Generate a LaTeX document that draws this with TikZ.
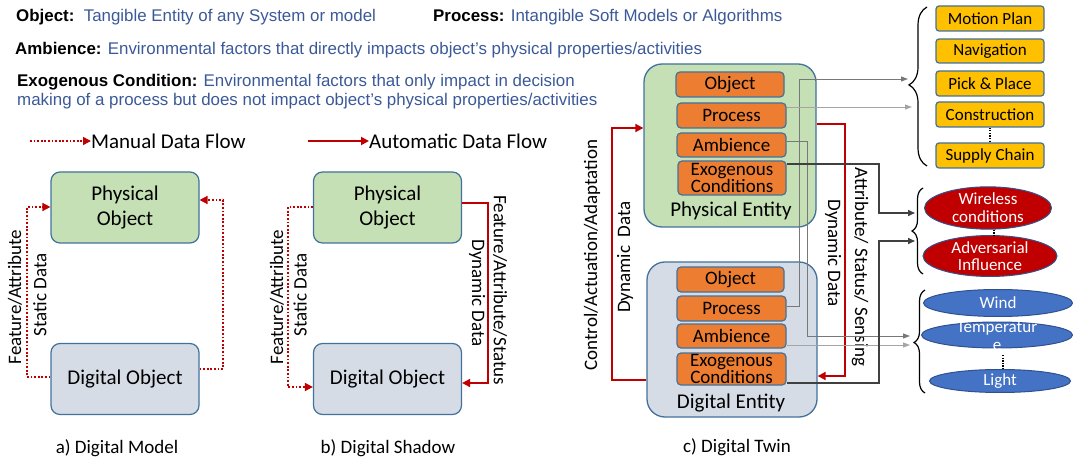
\documentclass[tikz,border=0pt]{standalone}
\usepackage{fontspec}
\setmainfont{Carlito}
\newfontfamily\arialf{Liberation Sans}
\usetikzlibrary{arrows.meta,decorations.pathreplacing,shapes.geometric,calc}
\definecolor{txtblue}{RGB}{59,89,152}
\definecolor{bordblue}{RGB}{65,113,156}
\definecolor{physgreen}{RGB}{197,224,180}
\definecolor{diggray}{RGB}{214,220,229}
\definecolor{orng}{RGB}{237,125,49}
\definecolor{yel}{RGB}{255,192,0}
\definecolor{darkred}{RGB}{192,0,0}
\definecolor{elblue}{RGB}{68,114,196}
\definecolor{elbord}{RGB}{47,82,143}
\definecolor{dgray}{RGB}{64,64,64}
\definecolor{mgray}{RGB}{120,120,120}
\definecolor{lgray}{RGB}{165,165,165}
\newcommand\fszA{\fontsize{21}{25}\selectfont}
\newcommand\fszB{\fontsize{19}{22}\selectfont}
\newcommand\fszC{\fontsize{17}{18}\selectfont}
\newcommand\fszT{\arialf\fontsize{16.9}{19}\selectfont}
\begin{document}
\begin{tikzpicture}[x=1pt,y=-1pt,
  objbox/.style={draw=bordblue, line width=1.2pt, rounded corners=9pt, minimum width=148pt, minimum height=71pt, align=center, inner sep=0pt, font=\fszA},
  entbox/.style={draw=bordblue, line width=1.3pt, rounded corners=18pt, inner sep=0pt},
  obox/.style={draw=bordblue, line width=1.2pt, fill=orng, rounded corners=4pt, inner sep=0pt, minimum width=108pt, minimum height=25pt, align=center, font=\fszB},
  ybox/.style={draw=bordblue, line width=1.2pt, fill=yel, rounded corners=3pt, inner sep=0pt, minimum width=108pt, minimum height=25pt, font=\fszC},
  rell/.style={ellipse, draw=elbord, line width=1pt, fill=darkred, text=white, inner sep=0pt, align=center, font=\fszC},
  bell/.style={ellipse, draw=elbord, line width=1pt, fill=elblue, text=white, inner sep=0pt, align=center, font=\fszC},
  lbl/.style={inner sep=0pt, font=\fszB},
  manual/.style={draw=darkred, line width=1.6pt, dash pattern=on 1.8pt off 1.8pt, -{Triangle[length=8pt,width=8pt]}},
  auto/.style={draw=darkred, line width=1.8pt, -{Triangle[length=8pt,width=8pt]}},
  dline/.style={draw=dgray, line width=1.5pt, -{Triangle[length=7pt,width=6pt]}},
  mline/.style={draw=mgray, line width=0.9pt, -{Triangle[length=7pt,width=5pt]}},
  lline/.style={draw=lgray, line width=0.9pt, -{Triangle[length=7pt,width=5pt]}},
  brc/.style={draw=black, line width=1.2pt, decorate},
  vdots/.style={draw=black, line width=1.3pt, dash pattern=on 1.3pt off 1.3pt}
]
\useasboundingbox (0,0) rectangle (1073,462);

% ---------- definitions text ----------
\node[anchor=west, inner sep=0pt, font=\fszT] (defobj) at (16,17) {\textbf{Object:}\ \ \textcolor{txtblue}{Tangible Entity of any System or model}};
\node[anchor=west, inner sep=0pt, font=\fszT] (defproc) at (433,17) {\textbf{Process:} \textcolor{txtblue}{Intangible Soft Models or Algorithms}};
\node[anchor=west, inner sep=0pt, font=\fszT] (defamb) at (15,50) {\textbf{Ambience:} \textcolor{txtblue}{Environmental factors that directly impacts object’s physical properties/activities}};
\node[anchor=west, inner sep=0pt, font=\fszT, align=left] (defexo) at (17,91.5) {\textbf{Exogenous Condition:} \textcolor{txtblue}{Environmental factors that only impact in decision}\\\textcolor{txtblue}{making of a process but does not impact object’s physical properties/activities}};

% ---------- legends ----------
\coordinate (ml1) at (30,141);
\node[anchor=west, inner sep=0pt, font=\fszA] (mltext) at (91,141) {Manual Data Flow};
\draw[manual] (ml1) -- (mltext.west);
\coordinate (al1) at (308,141);
\node[anchor=west, inner sep=0pt, font=\fszA] (altext) at (369,141) {Automatic Data Flow};
\draw[auto] (al1) -- (altext.west);

% ---------- panel a ----------
\node[objbox, fill=physgreen] (apo) at (125,207.5) {Physical\\Object};
\node[objbox, fill=diggray] (ado) at (125,379) {Digital Object};
\draw[manual] (ado.west |- 0,377) -- (27,377) |- (apo.west |- 0,207);
\draw[manual] (ado.east |- 0,369) -- (223,369) |- (apo.east |- 0,200);
\node[lbl, rotate=90] (alab1) at (15,297) {Feature/Attribute};
\node[lbl, rotate=90] (alab2) at (40,295) {Static Data};
\node[lbl] (acap) at (117,448) {a) Digital Model};

% ---------- panel b ----------
\node[objbox, fill=physgreen] (bpo) at (387.5,207.5) {Physical\\Object};
\node[objbox, fill=diggray] (bdo) at (387.5,379) {Digital Object};
\draw[manual] (bpo.west |- 0,207) -- (288,207) |- (bdo.west |- 0,387);
\draw[auto] (bpo.east |- 0,203) -- (488,203) |- (bdo.east |- 0,383);
\node[lbl, rotate=90] (blab1) at (277,297) {Feature/Attribute};
\node[lbl, rotate=90] (blab2) at (300,295) {Static Data};
\node[lbl, rotate=-90] (blab3) at (477,293) {Dynamic Data};
\node[lbl, rotate=-90] (blab4) at (500,290) {Feature/Attribute/Status};
\node[lbl] (bcap) at (388,448) {b) Digital Shadow};

% ---------- panel c ----------
\node[entbox, fill=physgreen, minimum width=172pt, minimum height=163pt] (pe) at (730,145.5) {};
\node[lbl, font=\fszA] (pelab) at (731,211) {Physical Entity};
\node[obox] (pobj) at (730,84.5) {Object};
\node[obox, minimum width=109pt] (pproc) at (731.5,115.5) {Process};
\node[obox, minimum width=109pt, minimum height=24pt] (pamb) at (731.5,145) {Ambience};
\node[obox, minimum height=34pt, font=\fontsize{19}{14}\selectfont] (pexo) at (732,178) {Exogenous\\Conditions};

\node[entbox, fill=diggray, minimum width=170pt, minimum height=155pt] (de) at (732,339.5) {};
\node[lbl, font=\fszA] (delab) at (731,403) {Digital Entity};
\node[obox, minimum width=107pt] (dobj) at (730.5,279.5) {Object};
\node[obox, minimum width=109pt] (dproc) at (731.5,308.5) {Process};
\node[obox, minimum width=109pt, minimum height=24pt] (damb) at (731.5,336) {Ambience};
\node[obox, minimum width=109pt, minimum height=32pt, font=\fontsize{19}{14}\selectfont] (dexo) at (731.5,369) {Exogenous\\Conditions};

\node[lbl] (ccap) at (737,447) {c) Digital Twin};

% red loops
\draw[auto] (de.west |- 0,380) -- (612,380) |- (pe.west |- 0,128);
\draw[auto] (pe.east |- 0,124) -- (845,124) |- (de.east |- 0,376);
\node[lbl, rotate=90] (clab1) at (592,255) {Control/Actuation/Adaptation};
\node[lbl, rotate=90] (clab2) at (625,257) {Dynamic\ \ Data};
\node[lbl, rotate=-90] (clab3) at (833,253) {Dynamic Data};
\node[lbl, rotate=-90] (clab4) at (860,267) {Attribute/ Status/ Sensing};

% ---------- right column ----------
\node[ybox] (amot) at (990,18.5) {Motion Plan};
\node[ybox, minimum height=24pt] (anav) at (990,51) {Navigation};
\node[ybox] (apick) at (990,83.5) {Pick \& Place};
\node[ybox] (acon) at (990,114.5) {Construction};
\node[ybox] (asup) at (990,155.5) {Supply Chain};
\draw[vdots] (acon.south) -- (asup.north);
\draw[brc, decoration={brace, amplitude=18pt, aspect=0.51}] (927,166) -- (927,7);

\node[rell, minimum width=127pt, minimum height=40pt, font=\fontsize{17}{18}\selectfont] (ewire) at (988,208) {Wireless\\conditions};
\node[rell, minimum width=134pt, minimum height=36pt, font=\fontsize{17}{17}\selectfont] (eadv) at (990,256) {Adversarial\\Influence};
\draw[vdots] (ewire.south -| 994,0) -- (eadv.north -| 994,0);
\draw[brc, decoration={brace, amplitude=11pt, aspect=0.5}] (923,274) -- (923,188);

\node[bell, minimum width=149pt, minimum height=27pt] (ewind) at (998,303) {Wind};
\node[bell, minimum width=151pt, minimum height=26pt] (etemp) at (997,335) {};
\node[inner sep=0pt, text=white, align=center, font=\fontsize{17}{18}\selectfont] (etemptxt) at (997,336) {Temperatur\\e};
\node[bell, minimum width=141pt, minimum height=23pt] (elight) at (1000,381) {Light};
\draw[vdots] (1003,355) -- (elight.north -| 1003,0);
\draw[brc, decoration={brace, amplitude=11pt, aspect=0.49}] (925,393) -- (925,290);

% ---------- grey connectors ----------
\coordinate (ain1) at (908,79);
\coordinate (ain2) at (912,107);
\coordinate (rin1) at (915,213);
\coordinate (rin2) at (915,241);
\coordinate (bin1) at (910,336);
\coordinate (bin2) at (910,345);
\draw[mline] (dproc.east |- 0,306) -- (799,306) |- (ain1);
\draw[lline] (pproc.east |- 0,107) -- (ain2);
\draw[mline] (pamb.east |- 0,141) -- (807,141) |- (bin1);
\draw[lline] (damb.east |- 0,345) -- (bin2);
\draw[dline] (pexo.east |- 0,164) -- (879,164) |- (rin1);
\draw[dline] (dexo.east |- 0,383) -- (879,383) |- (rin2);
\end{tikzpicture}
\end{document}
